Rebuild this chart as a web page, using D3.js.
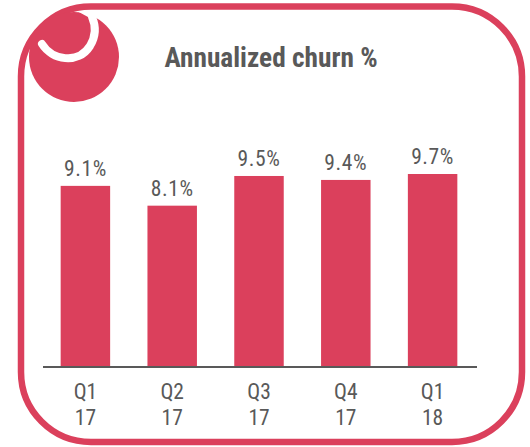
<!DOCTYPE html>
<html><head><meta charset="utf-8">
<script src="https://cdnjs.cloudflare.com/ajax/libs/d3/7.8.5/d3.min.js"></script>
<style>html,body{margin:0;padding:0;background:#fff}svg{display:block}</style>
</head><body><svg id="c" width="530" height="447"></svg>
<script>
const quarters = ["Q1","Q2","Q3","Q4","Q1"];
const years = ["17","17","17","17","18"];
// Bar heights: the Q3 17 bar is drawn at about 9.6 although its printed label says 9.5%.
const churn = [9.1,8.1,9.6,9.4,9.7];
const labels = ["9.1%","8.1%","9.5%","9.4%","9.7%"];
const title = "Annualized churn %";
const red = "#db405c", grey = "#595959";
const svg = d3.select("#c");
const font = "'Liberation Sans Narrow','Roboto Condensed','Liberation Sans',sans-serif";
const x = d3.scaleBand().domain(d3.range(5)).range([42,476]).paddingInner(0.43).paddingOuter(0.215);
const y = d3.scaleLinear().domain([0,9.7]).range([366,174]);

svg.append("rect").attr("x",21).attr("y",6.5).attr("width",501).attr("height",435.5).attr("rx",70).attr("ry",70)
  .attr("fill","none").attr("stroke",red).attr("stroke-width",6.5);
svg.append("circle").attr("cx",74).attr("cy",57).attr("r",45).attr("fill",red);
const hook=d3.path();hook.moveTo(42,44);hook.bezierCurveTo(52,60,78,65,90,46);hook.bezierCurveTo(96,36,96,26,92,17);
svg.append("path").attr("d",hook.toString())
  .attr("fill","none").attr("stroke","#fff").attr("stroke-width",8).attr("stroke-linecap","round");
svg.append("path").attr("d","M77 11 L90 12.5 L96 17 L88 17 Z").attr("fill","#fff");

svg.selectAll("rect.bar").data(churn).join("rect").attr("class","bar")
  .attr("x",(d,i)=>x(i)).attr("width",x.bandwidth()).attr("y",d=>y(d)).attr("height",d=>y(0)-y(d)).attr("fill",red);
svg.append("line").attr("x1",43).attr("x2",477).attr("y1",367).attr("y2",367).attr("stroke",grey).attr("stroke-width",2);

const txt=(s,xx,yy,size,w,ls)=>svg.append("text").text(s).attr("x",xx).attr("y",yy).attr("text-anchor","middle")
  .attr("font-family",font).attr("font-size",size).attr("font-weight",w||400).attr("letter-spacing",ls||0).attr("fill",grey);
txt(title,271,66.5,27.3,700);
labels.forEach((l,i)=>txt(l,x(i)+x.bandwidth()/2,y(churn[i])-10,21.5,400,0.6));
quarters.forEach((q,i)=>txt(q,x(i)+x.bandwidth()/2,398.5,21.5));
years.forEach((q,i)=>txt(q,x(i)+x.bandwidth()/2,425,21.5));
</script></body></html>
